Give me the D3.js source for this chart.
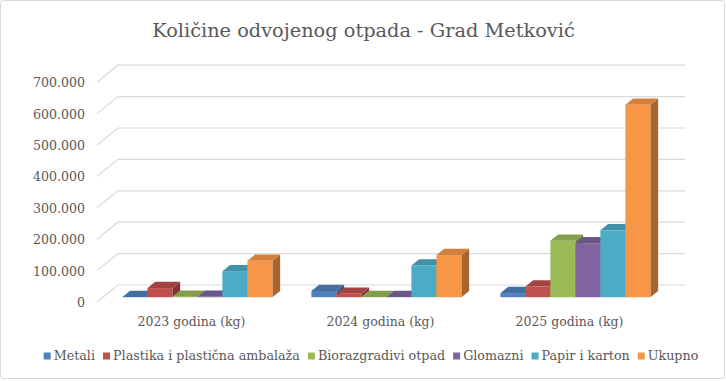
<!DOCTYPE html>
<html><head><meta charset="utf-8">
<script src="https://cdn.jsdelivr.net/npm/d3@7"></script>
<style>
html,body{margin:0;padding:0;background:#fff;}
svg text{font-family:"DejaVu Serif",serif;fill:#595959;}
</style></head>
<body>
<svg id="c" width="726" height="381"></svg>
<script>
const categories = ["2023 godina (kg)", "2024 godina (kg)", "2025 godina (kg)"];
const seriesNames = ["Metali", "Plastika i plastična ambalaža", "Biorazgradivi otpad", "Glomazni", "Papir i karton", "Ukupno"];
const metali   = [800, 20000, 13000];
const plastika = [29000, 11000, 34000];
const bio      = [1500, 1000, 180000];
const glomazni = [1200, 1000, 172000];
const papir    = [83000, 101000, 213000];
const ukupno   = [116000, 134000, 613000];
const tickValues = [0, 100000, 200000, 300000, 400000, 500000, 600000, 700000];
const colors = ["#4F81BD", "#C0504D", "#9BBB59", "#8064A2", "#4BACC6", "#F79646"];
const title = "Količine odvojenog otpada - Grad Metković";

const seriesValues = [metali, plastika, bio, glomazni, papir, ukupno];
const svg = d3.select("#c");
const W = 726, H = 381;

svg.append("rect").attr("x",0.5).attr("y",0.5).attr("width",W-2).attr("height",H-3)
  .attr("rx",3).attr("fill","#fff").attr("stroke","#D9D9D9");

// 3D geometry
const DX = 21, DY = -17;          // full depth vector
const f0 = 0.28, f1 = 0.65;       // bar depth range
const x0 = 97, x1 = 664;
const y = d3.scaleLinear().domain([0, 700000]).range([302, 82.2]);
const xBand = d3.scaleBand().domain(categories).range([x0, x1]).padding(0);
const groupW = 150;
const xSer = d3.scaleBand().domain(seriesNames).range([0, groupW]).padding(0);

// gridlines
const grid = svg.append("g");
tickValues.forEach(v => {
  const yy = y(v);
  grid.append("path")
    .attr("d", `M${x0},${yy}L${x0+DX},${yy+DY}L${x1+DX},${yy+DY}`)
    .attr("fill","none").attr("stroke","#D9D9D9").attr("stroke-width",1.2);
});

// y axis labels
const loc = d3.formatLocale({decimal:",", thousands:".", grouping:[3], currency:["",""]});
const fmt = loc.format(",d");
const ax = svg.append("g").attr("transform",`translate(${x0-9},0)`)
  .call(d3.axisLeft(y).tickValues(tickValues).tickFormat(fmt).tickSize(0));
ax.select(".domain").remove();
ax.selectAll("text").attr("class","ytick").style("font-family",null).attr("fill","#595959").attr("x",-3);

// bars
const bars = svg.append("g");
categories.forEach((cat, ci) => {
  const gx = xBand(cat) + (xBand.bandwidth() - groupW) / 2;
  seriesNames.forEach((s, si) => {
    const v = seriesValues[si][ci];
    const bw = xSer.bandwidth();
    const xL = gx + xSer(s) + f0*DX, xR = xL + bw;
    const yT = y(v) + f0*DY, yB = y(0) + f0*DY;
    const ddx = (f1-f0)*DX, ddy = (f1-f0)*DY;
    const c = d3.color(colors[si]);
    const g = bars.append("g");
    g.append("path").attr("d",`M${xR},${yT}L${xR+ddx},${yT+ddy}L${xR+ddx},${yB+ddy}L${xR},${yB}Z`)
      .attr("fill", c.darker(1.1).formatHex());
    g.append("rect").attr("x",xL).attr("y",yT).attr("width",bw).attr("height",Math.max(0,yB-yT))
      .attr("fill", colors[si]);
    g.append("path").attr("d",`M${xL},${yT}L${xR},${yT}L${xR+ddx},${yT+ddy}L${xL+ddx},${yT+ddy}Z`)
      .attr("fill", c.darker(0.45).formatHex());
  });
});

// fit font-size helper
function fitSize(text, targetW, cls) {
  const t = svg.append("text").attr("font-size",20).text(text);
  const w = t.node().getComputedTextLength();
  t.remove();
  return 20 * targetW / w;
}
const tickSize = fitSize("700.000", 52);
ax.selectAll("text").attr("font-size", tickSize).attr("dy","0.35em");

const catSize = fitSize("2023 godina (kg)", 108);
svg.append("g").selectAll("text").data(categories).join("text")
  .attr("x", d => xBand(d) + xBand.bandwidth()/2)
  .attr("y", 322).attr("dy","0.35em").attr("text-anchor","middle")
  .attr("font-size", catSize).text(d => d);

const titleSize = fitSize(title, 423);
svg.append("text").attr("x", 363.5).attr("y", 30).attr("dy","0.35em")
  .attr("text-anchor","middle").attr("font-size", titleSize).text(title);

// legend
const legSize = fitSize("Plastika i plastična ambalaža", 187);
const leg = svg.append("g");
let cx = 0;
const items = [];
seriesNames.forEach((s, i) => {
  const g = leg.append("g");
  g.append("rect").attr("x", cx).attr("y", -3.5).attr("width",7).attr("height",7).attr("fill", colors[i]);
  const t = g.append("text").attr("x", cx + 10).attr("y", 0).attr("dy","0.35em")
    .attr("font-size", legSize).text(s);
  cx += 10 + t.node().getComputedTextLength() + 8;
});
const legW = cx - 8;
leg.attr("transform", `translate(${371 - legW/2}, 356)`);
</script>
</body></html>
